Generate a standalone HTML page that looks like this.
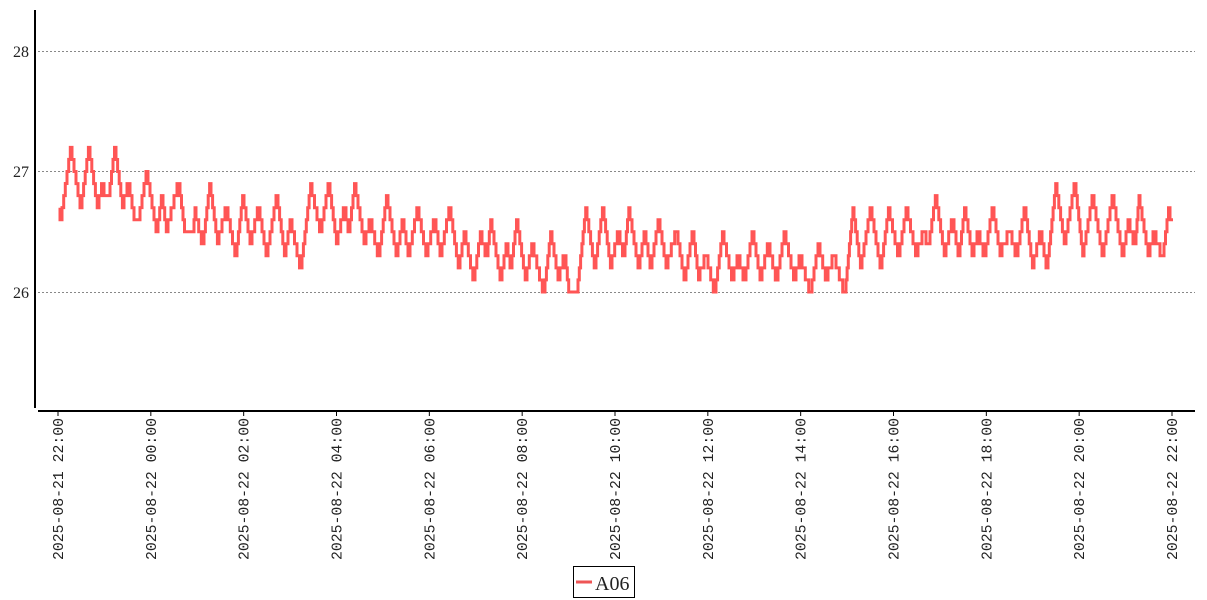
<!DOCTYPE html>
<html><head><meta charset="utf-8"><style>
html,body{margin:0;padding:0;background:#fff;width:1207px;height:600px;overflow:hidden}
</style></head><body>
<svg id="s" width="1207" height="600" xmlns="http://www.w3.org/2000/svg" font-family="'Liberation Serif','DejaVu Serif',serif">
<g stroke="#888" stroke-width="1" stroke-dasharray="2,2">
<line x1="38" y1="51.5" x2="1195" y2="51.5"/>
<line x1="38" y1="171.5" x2="1195" y2="171.5"/>
<line x1="38" y1="292.5" x2="1195" y2="292.5"/>
</g>
<line x1="35" y1="10" x2="35" y2="408" stroke="#000" stroke-width="2"/>
<line x1="38" y1="411" x2="1195" y2="411" stroke="#000" stroke-width="2"/>
<g font-size="16" fill="#222" text-anchor="end">
<text x="29" y="57">28</text><text x="29" y="177">27</text><text x="29" y="298">26</text>
</g>
<g id="ticks"></g>
<polyline id="line" fill="none" stroke="#f55" stroke-width="3" stroke-linejoin="miter"/>
<rect x="573.5" y="566.5" width="61" height="31" fill="#fff" stroke="#000" stroke-width="1"/>
<line x1="576" y1="582" x2="592" y2="582" stroke="#e55" stroke-width="3"/>
<text x="595" y="590" font-size="20" fill="#222">A06</text>
</svg>
<script>
var labels=["2025-08-21 22:00","2025-08-22 00:00","2025-08-22 02:00","2025-08-22 04:00","2025-08-22 06:00","2025-08-22 08:00","2025-08-22 10:00","2025-08-22 12:00","2025-08-22 14:00","2025-08-22 16:00","2025-08-22 18:00","2025-08-22 20:00","2025-08-22 22:00"];
var g=document.getElementById('ticks'),h='';
for(var i=0;i<13;i++){var x=58+i*(1172-58)/12;
h+='<line x1="'+x+'" y1="411" x2="'+x+'" y2="416" stroke="#000"/>';
h+='<text transform="translate('+(x+5)+',560) rotate(-90)" font-family="Liberation Mono,monospace" font-size="15" fill="#222" textLength="142" lengthAdjust="spacingAndGlyphs">'+labels[i]+'</text>';}
g.innerHTML=h;
var e=[[60,26.7],[62,26.6],[72,27.2],[82,26.7],[90,27.2],[99,26.7],[104,26.9],[110,26.8],[116,27.2],[124,26.7],[130,26.9],[134,26.7],[140,26.6],[148,27.0],[158,26.5],[163,26.8],[168,26.5],[180,26.9],[186,26.5],[194,26.5],[196,26.7],[204,26.4],[211,26.9],[219,26.4],[228,26.7],[237,26.3],[244,26.8],[252,26.4],[260,26.7],[268,26.3],[278,26.8],[286,26.3],[292,26.6],[302,26.2],[312,26.9],[322,26.5],[330,26.9],[338,26.4],[346,26.7],[350,26.5],[356,26.9],[366,26.4],[372,26.6],[380,26.3],[388,26.8],[398,26.3],[404,26.6],[410,26.3],[419,26.7],[428,26.3],[436,26.6],[442,26.3],[451,26.7],[460,26.2],[466,26.5],[475,26.1],[482,26.5],[488,26.3],[492,26.6],[502,26.1],[508,26.4],[512,26.2],[518,26.6],[527,26.1],[534,26.4],[545,26.0],[552,26.5],[560,26.1],[566,26.3],[570,26.0],[578,26.0],[587,26.7],[596,26.2],[604,26.7],[612,26.2],[620,26.5],[625,26.3],[630,26.7],[640,26.2],[646,26.5],[652,26.2],[660,26.6],[668,26.2],[678,26.5],[686,26.1],[694,26.5],[700,26.1],[708,26.3],[716,26.0],[724,26.5],[734,26.1],[740,26.3],[746,26.1],[754,26.5],[762,26.1],[770,26.4],[778,26.1],[786,26.5],[796,26.1],[802,26.3],[812,26.0],[820,26.4],[828,26.1],[836,26.3],[846,26.0],[854,26.7],[862,26.2],[872,26.7],[882,26.2],[890,26.7],[900,26.3],[908,26.7],[918,26.3],[926,26.5],[930,26.4],[937,26.8],[946,26.3],[954,26.6],[960,26.3],[966,26.7],[974,26.3],[980,26.5],[986,26.3],[994,26.7],[1002,26.3],[1012,26.5],[1018,26.3],[1026,26.7],[1034,26.2],[1042,26.5],[1048,26.2],[1057,26.9],[1066,26.4],[1076,26.9],[1084,26.3],[1094,26.8],[1104,26.3],[1114,26.8],[1124,26.3],[1130,26.6],[1136,26.4],[1140,26.8],[1150,26.3],[1156,26.5],[1164,26.3],[1170,26.7],[1173,26.6]];
function Y(v){return 292-(v-26)*120.5;}
var pts=[[e[0][0],Y(e[0][1])]];
for(var k=1;k<e.length;k++){var a=e[k-1],b=e[k];var n=Math.round(Math.abs(b[1]-a[1])*10);
if(n==0){pts.push([b[0],Y(b[1])]);continue;}
var dx=(b[0]-a[0])/n,d=b[1]>a[1]?0.1:-0.1;
for(var j=1;j<=n;j++){var v=a[1]+d*j;var x0=a[0]+dx*(j-1);pts.push([x0,Y(v)]);pts.push([x0+dx,Y(v)]);}}
document.getElementById('line').setAttribute('points',pts.map(function(p){return p[0].toFixed(1)+','+p[1].toFixed(1)}).join(' '));
</script>
</body></html>
